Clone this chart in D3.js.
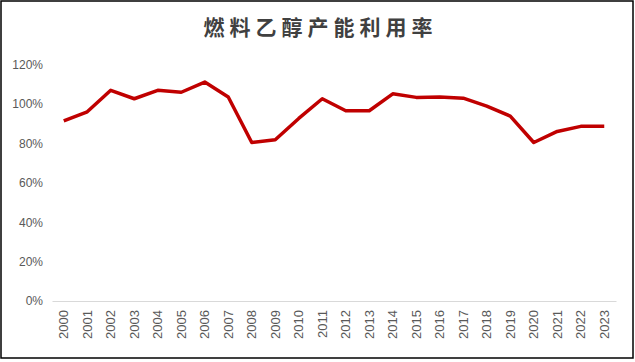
<!DOCTYPE html>
<html><head><meta charset="utf-8">
<script src="https://cdn.jsdelivr.net/npm/d3@7"></script>
<style>body{margin:0;background:#fff;}svg{display:block;}</style>
</head><body>
<svg id="c" width="635" height="362"></svg>
<script>
const title = "燃料乙醇产能利用率";
const years = ["2000","2001","2002","2003","2004","2005","2006","2007","2008","2009","2010","2011","2012","2013","2014","2015","2016","2017","2018","2019","2020","2021","2022","2023"];
const utilization = [91.5,96.1,107,102.7,107,106,111.2,103.6,80.5,81.9,92.7,102.7,96.6,96.6,105.2,103.4,103.6,103,99,93.9,80.5,86.1,88.7,88.7];
const yTicks = [0,20,40,60,80,100,120];

const svg = d3.select("#c");
svg.append("rect").attr("x",1).attr("y",1).attr("width",632).attr("height",357)
  .attr("fill","#fff").attr("stroke","#000").attr("stroke-width",1.5);

svg.append("text").attr("x",320.5).attr("y",35).attr("text-anchor","middle")
  .attr("font-family","'Noto Sans CJK SC'").attr("font-weight","bold").attr("font-size",21)
  .attr("letter-spacing","5px").attr("fill","#404040").text(title);

const x = d3.scaleBand().domain(years).range([52,616]);
const y = d3.scaleLinear().domain([0,120]).range([301,64.7]);

// y axis labels
const ya = svg.append("g").attr("transform","translate(43,0)")
  .call(d3.axisLeft(y).tickValues(yTicks).tickSize(0).tickPadding(0).tickFormat(d=>d+"%"));
ya.select(".domain").remove();
ya.selectAll("text").attr("font-family","'Liberation Sans',Arial").attr("font-size",12).attr("fill","#595959");

// x axis
const xa = svg.append("g").attr("transform","translate(0,301)")
  .call(d3.axisBottom(x).tickSize(0).tickPadding(0));
xa.select(".domain").attr("stroke","#d9d9d9").attr("stroke-width",1);
xa.selectAll("text").attr("font-family","'Liberation Sans',Arial").attr("font-size",13).attr("fill","#595959")
  .attr("text-anchor","end").attr("transform","rotate(-90)").attr("x",-9).attr("y",0).attr("dy","0.35em");

const line = d3.line().x((d,i)=>x(years[i])+x.bandwidth()/2).y(d=>y(d));
svg.append("path").datum(utilization).attr("d",line).attr("fill","none")
  .attr("stroke","#C00000").attr("stroke-width",3.5).attr("stroke-linejoin","round");
</script>
</body></html>
